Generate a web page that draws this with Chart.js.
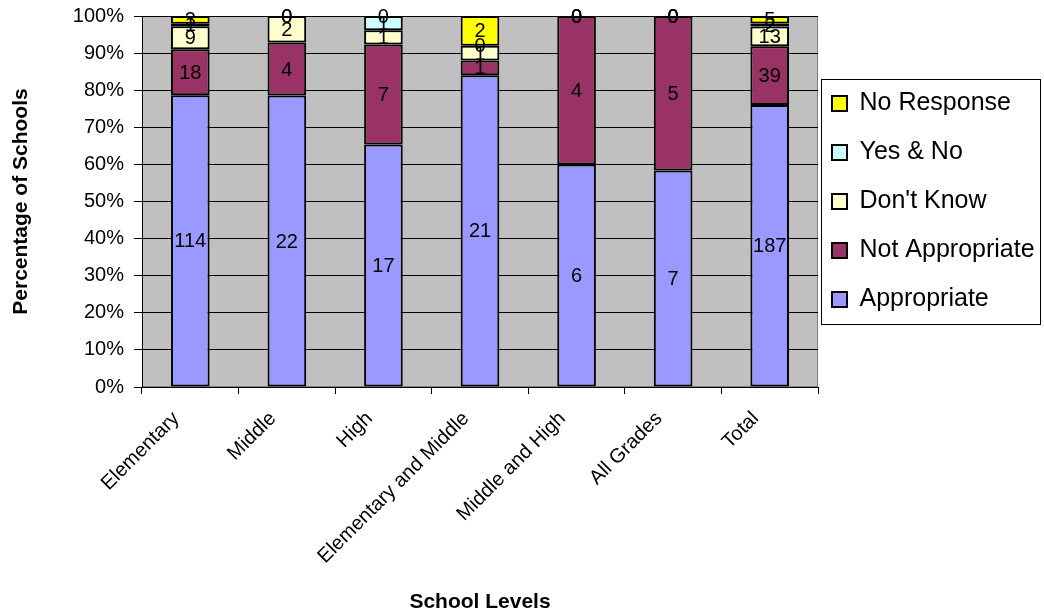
<!DOCTYPE html>
<html>
<head>
<meta charset="utf-8">
<script src="https://cdn.jsdelivr.net/npm/chart.js@4/dist/chart.umd.min.js"></script>
<style>
  html, body { margin: 0; padding: 0; background: #ffffff; }
  #wrap { width: 1044px; height: 615px; }
</style>
</head>
<body>
<div id="wrap"><canvas id="chart" width="1044" height="615"></canvas></div>
<script>
// School levels and the number of schools giving each response
const categories = ['Elementary', 'Middle', 'High', 'Elementary and Middle', 'Middle and High', 'All Grades', 'Total'];
const appropriate    = [114, 22, 17, 21, 6, 7, 187];
const notAppropriate = [18, 4, 7, 1, 4, 5, 39];
const dontKnow       = [9, 2, 1, 1, 0, 0, 13];
const yesAndNo       = [1, 0, 1, 0, 0, 0, 2];
const noResponse     = [3, 0, 0, 2, 0, 0, 5];
const yTicks = [0, 10, 20, 30, 40, 50, 60, 70, 80, 90, 100];

const seriesCounts = [appropriate, notAppropriate, dontKnow, yesAndNo, noResponse];
const totals = categories.map((_, i) => seriesCounts.reduce((s, arr) => s + arr[i], 0));
const toPercent = arr => arr.map((v, i) => v / totals[i] * 100);

const FONT = 'Arial, "Liberation Sans", sans-serif';
const LEGEND_FONT = 25;
const LEGEND_PAD = 24;

function makeSet(label, counts, color) {
  return {
    label: label,
    data: toPercent(counts),
    counts: counts,
    backgroundColor: color,
    borderColor: '#000000',
    borderWidth: 2,
    borderSkipped: false,
    barPercentage: 0.4,
    categoryPercentage: 1.0
  };
}

// Gray plot area with a thin frame; legend placed beside it, centred on the plot
const plotBackground = {
  id: 'plotBackground',
  beforeDraw(chart) {
    const { ctx, chartArea: a } = chart;
    ctx.save();
    ctx.fillStyle = '#C0C0C0';
    ctx.fillRect(a.left, a.top, a.right - a.left, a.bottom - a.top);
    ctx.strokeStyle = '#808080';
    ctx.lineWidth = 1;
    ctx.strokeRect(a.left + 0.5, a.top + 0.5, a.right - a.left - 1, a.bottom - a.top - 1);
    ctx.restore();

    const lg = chart.legend;
    if (lg) {
      const n = chart.data.datasets.length;
      const step = LEGEND_FONT + LEGEND_PAD;
      const mid = (a.top + a.bottom) / 2;
      const firstCenter = mid - (n - 1) / 2 * step;
      const h = lg.bottom - lg.top;
      lg.top = firstCenter - LEGEND_FONT / 2 - LEGEND_PAD;
      lg.bottom = lg.top + h;
      const w = lg.right - lg.left;
      lg.left = a.right + 14 - LEGEND_PAD;
      lg.right = lg.left + w;
      chart.$legendFrame = {
        left: a.right + 3,
        top: firstCenter - step / 2,
        bottom: firstCenter + (n - 1) * step + step / 2
      };
    }
  }
};

// Count labels at the middle of each stacked segment
const countLabels = {
  id: 'countLabels',
  afterDatasetsDraw(chart) {
    const ctx = chart.ctx;
    ctx.save();
    ctx.font = '20px ' + FONT;
    ctx.fillStyle = '#000000';
    ctx.textAlign = 'center';
    ctx.textBaseline = 'middle';
    chart.data.datasets.forEach((ds, di) => {
      const meta = chart.getDatasetMeta(di);
      meta.data.forEach((el, i) => {
        const y = (el.y + el.base) / 2;
        ctx.fillText(String(ds.counts[i]), el.x, y + 1);
      });
    });
    ctx.restore();
  }
};

// Frame around the legend
const legendFrame = {
  id: 'legendFrame',
  afterDraw(chart) {
    const f = chart.$legendFrame;
    if (!f) return;
    const ctx = chart.ctx;
    ctx.save();
    ctx.strokeStyle = '#000000';
    ctx.lineWidth = 1;
    ctx.strokeRect(Math.round(f.left) + 0.5, Math.round(f.top) + 0.5,
      chart.width - 4 - Math.round(f.left), Math.round(f.bottom - f.top));
    ctx.restore();
  }
};

new Chart(document.getElementById('chart'), {
  type: 'bar',
  data: {
    labels: categories,
    datasets: [
      makeSet('Appropriate', appropriate, '#9999FF'),
      makeSet('Not Appropriate', notAppropriate, '#993366'),
      makeSet("Don't Know", dontKnow, '#FFFFCC'),
      makeSet('Yes & No', yesAndNo, '#CCFFFF'),
      makeSet('No Response', noResponse, '#FFFF00')
    ]
  },
  options: {
    responsive: false,
    animation: false,
    devicePixelRatio: 1,
    layout: { padding: { top: 16, right: 0, left: 0, bottom: 0 } },
    plugins: {
      tooltip: { enabled: false },
      legend: {
        position: 'right',
        align: 'start',
        reverse: true,
        maxWidth: 226,
        labels: {
          boxWidth: 15,
          boxHeight: 15,
          padding: LEGEND_PAD,
          color: '#000000',
          font: { family: FONT, size: LEGEND_FONT }
        }
      }
    },
    scales: {
      x: {
        stacked: true,
        offset: true,
        afterFit(scale) { scale.height = 228; },
        grid: {
          offset: true,
          drawOnChartArea: false,
          drawTicks: true,
          tickLength: 7,
          color: '#000000'
        },
        border: { color: '#000000', width: 1 },
        ticks: {
          minRotation: 45,
          maxRotation: 45,
          labelOffset: -14,
          color: '#000000',
          font: { family: FONT, size: 20 },
          padding: 13
        },
        title: {
          display: true,
          text: 'School Levels',
          color: '#000000',
          font: { family: FONT, size: 21, weight: 'bold' },
          padding: { top: 0, bottom: 0 }
        }
      },
      y: {
        stacked: true,
        min: 0,
        max: 100,
        afterFit(scale) { scale.width = 142; scale.paddingTop = 0; },
        afterBuildTicks(scale) { scale.ticks = yTicks.map(v => ({ value: v })); },
        grid: {
          color: '#000000',
          lineWidth: 1,
          tickLength: 8,
          drawTicks: true
        },
        border: { color: '#000000', width: 1 },
        ticks: {
          color: '#000000',
          font: { family: FONT, size: 20 },
          padding: 10,
          callback: v => v + '%'
        },
        title: {
          display: true,
          text: 'Percentage of Schools',
          color: '#000000',
          font: { family: FONT, size: 21, weight: 'bold' },
          padding: { top: 9, bottom: 0 }
        }
      }
    }
  },
  plugins: [plotBackground, countLabels, legendFrame]
});
</script>
</body>
</html>
